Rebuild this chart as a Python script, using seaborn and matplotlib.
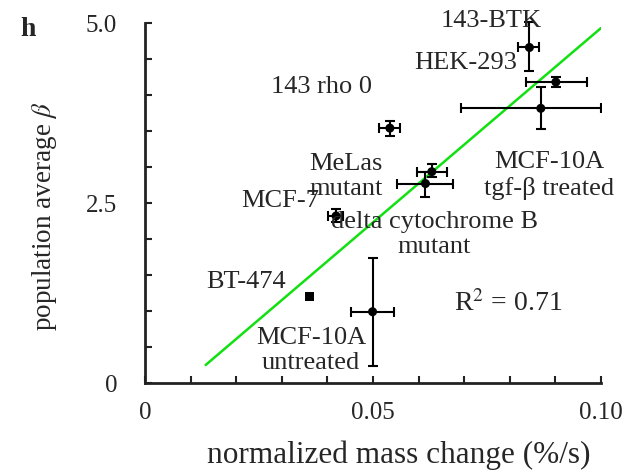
import numpy as np
import pandas as pd
import matplotlib
matplotlib.use("Agg")
import matplotlib.pyplot as plt
import seaborn as sns

# ---- data ----
cells = ["143-BTK", "HEK-293", "MCF-10A tgf", "143 rho 0", "MeLas mutant",
         "delta cytochrome B", "MCF-7", "BT-474", "MCF-10A untreated"]
mass_change = [0.0843, 0.0901, 0.0868, 0.0537, 0.0629, 0.0615, 0.0419, 0.0360, 0.0499]
beta = [4.66, 4.18, 3.815, 3.54, 2.935, 2.77, 2.32, 1.20, 0.99]
xerr_lo = [0.0024, 0.0065, 0.0175, 0.0023, 0.0033, 0.0063, 0.0017, 0.0, 0.0047]
xerr_hi = [0.0022, 0.0069, 0.0132, 0.0022, 0.0034, 0.0061, 0.0016, 0.0, 0.0047]
yerr_lo = [0.33, 0.07, 0.29, 0.11, 0.07, 0.18, 0.09, 0.0, 0.75]
yerr_hi = [0.36, 0.07, 0.29, 0.10, 0.11, 0.16, 0.09, 0.0, 0.75]
marker_kind = ["o", "o", "o", "o", "o", "o", "o", "s", "o"]

fit_x = [0.0133, 0.1000]
fit_y = [0.25, 4.93]

labels = ["143-BTK", "HEK-293", "143 rho 0", "MeLas\nmutant", "MCF-10A\ntgf-β treated",
          "MCF-7", "delta cytochrome B\nmutant", "BT-474", "MCF-10A\nuntreated"]
label_x = [0.0760, 0.0703, 0.0388, 0.0441, 0.0886, 0.0296, 0.0634, 0.0222, 0.0364]
label_y = [5.03, 4.44, 4.11, 2.87, 2.88, 2.53, 2.06, 1.40, 0.45]

xticks = [0, 0.05, 0.10]
xticklabels = ["0", "0.05", "0.10"]
yticks = [0, 2.5, 5.0]
yticklabels = ["0", "2.5", "5.0"]

df = pd.DataFrame({"cell": cells, "x": mass_change, "y": beta, "m": marker_kind})
fit_df = pd.DataFrame({"x": fit_x, "y": fit_y})

# ---- style ----
sns.set_style("ticks")
plt.rcParams["font.family"] = ["Liberation Serif", "DejaVu Serif"]
plt.rcParams["mathtext.fontset"] = "stix"

fig = plt.figure(figsize=(6.23, 4.75), dpi=100)
ax = fig.add_axes([145 / 623, 92 / 475, 456 / 623, 360 / 475])

# fit line
sns.lineplot(data=fit_df, x="x", y="y", color="#11e011", linewidth=1.8, ax=ax, zorder=2)

# error bars
for i in range(len(cells)):
    if xerr_lo[i] + xerr_hi[i] + yerr_lo[i] + yerr_hi[i] == 0:
        continue
    ax.errorbar(mass_change[i], beta[i],
                xerr=[[xerr_lo[i]], [xerr_hi[i]]],
                yerr=[[yerr_lo[i]], [yerr_hi[i]]],
                fmt="none", ecolor="black", elinewidth=1.5, capsize=3.3,
                capthick=1.5, zorder=3, clip_on=(i == 2))

sns.scatterplot(data=df, x="x", y="y", style="m", markers={"o": "o", "s": "s"},
                color="black", s=42, edgecolor="black", linewidth=0, ax=ax,
                legend=False, zorder=4, clip_on=False)

for t, lx, ly in zip(labels, label_x, label_y):
    ax.text(lx, ly, t, ha="center", va="center", fontsize=19, linespacing=1.2,
            zorder=5)

ax.text(0.0797, 1.10, "R$^2$ = 0.71", ha="center", va="center", fontsize=20)

ax.set_xlim(0, 0.10)
ax.set_ylim(0, 5.0)
xt = np.round(np.arange(0, 0.1001, 0.01), 2)
ax.set_xticks(xt)
ax.set_xticklabels([xticklabels[xticks.index(v)] if v in xticks else "" for v in xt])
yt = np.round(np.arange(0, 5.01, 0.5), 1)
ax.set_yticks(yt)
ax.set_yticklabels([yticklabels[yticks.index(v)] if v in yticks else "" for v in yt])

ax.tick_params(axis="both", direction="in", length=5, width=1.5, labelsize=18,
               color="#222222")
ax.tick_params(axis="x", pad=14)
ax.tick_params(axis="y", pad=20)
for s in ["top", "right"]:
    ax.spines[s].set_visible(False)
for s in ["left", "bottom"]:
    ax.spines[s].set_linewidth(2)
    ax.spines[s].set_color("#222222")

ax.set_xlabel("normalized mass change (%/s)", fontsize=22.5)
ax.set_ylabel("population average $\\beta$", fontsize=19.5)
ax.xaxis.set_label_coords((399 - 145) / 456, -(455 - 383) / 360)
ax.yaxis.set_label_coords(-(145 - 45) / 456, (383 - 216) / 360)
ax.xaxis.label.set_va("center")
ax.yaxis.label.set_va("center")

fig.text(20 / 623, 1 - 30 / 475, "h", fontsize=20, fontweight="bold",
         ha="left", va="center")

fig.savefig("out.png", dpi=100)
